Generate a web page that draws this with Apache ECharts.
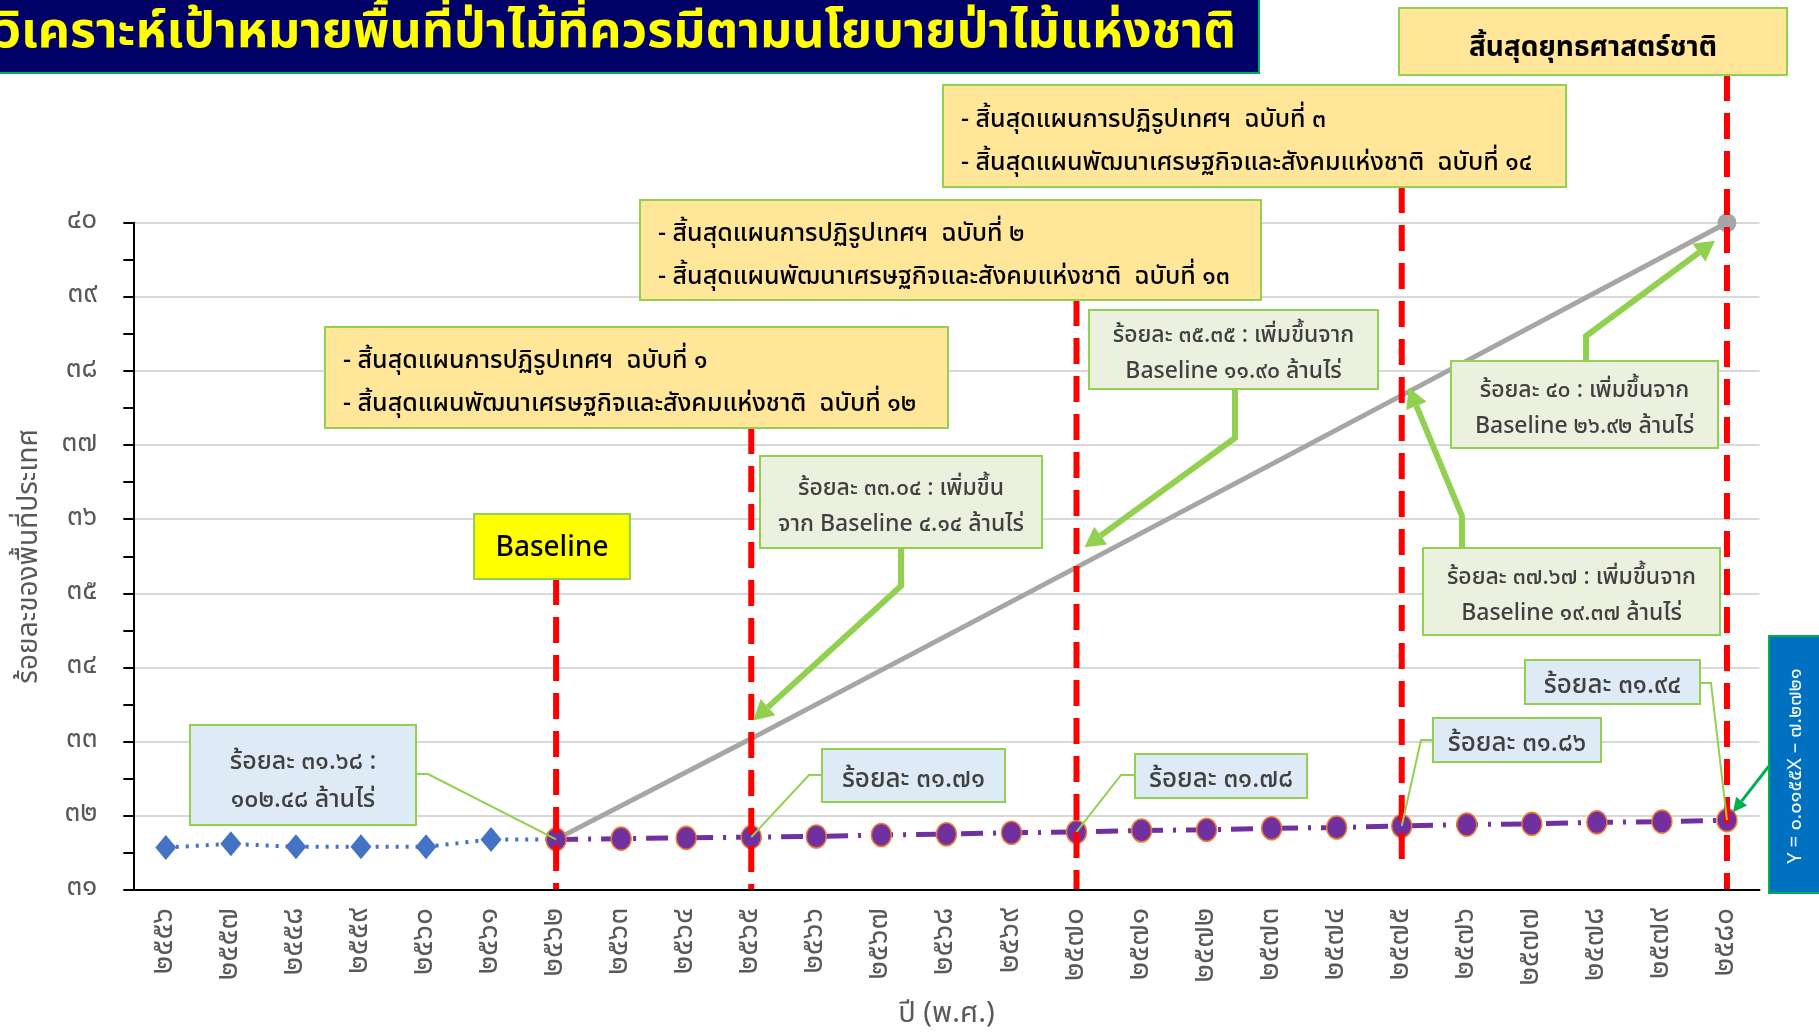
<!DOCTYPE html>
<html><head><meta charset="utf-8">
<script src="https://cdn.jsdelivr.net/npm/echarts@6/dist/echarts.min.js"></script>
<style>html,body{margin:0;padding:0;background:#fff}#c{width:1819px;height:1033px}</style>
</head><body><div id="c"></div>
<script>
// ---------- data ----------
const years = ['๒๕๕๖','๒๕๕๗','๒๕๕๘','๒๕๕๙','๒๕๖๐','๒๕๖๑','๒๕๖๒','๒๕๖๓','๒๕๖๔','๒๕๖๕','๒๕๖๖','๒๕๖๗','๒๕๖๘','๒๕๖๙','๒๕๗๐','๒๕๗๑','๒๕๗๒','๒๕๗๓','๒๕๗๔','๒๕๗๕','๒๕๗๖','๒๕๗๗','๒๕๗๘','๒๕๗๙','๒๕๘๐'];
const yTickLabels = ['๓๑','๓๒','๓๓','๓๔','๓๕','๓๖','๓๗','๓๘','๓๙','๔๐'];
// actual forest cover 2556–2562
const histYears = ['๒๕๕๖','๒๕๕๗','๒๕๕๘','๒๕๕๙','๒๕๖๐','๒๕๖๑','๒๕๖๒'];
const histValues = [31.57, 31.62, 31.58, 31.58, 31.58, 31.68, 31.68];
// trend projection 2562–2580
const projYears = ['๒๕๖๒','๒๕๖๓','๒๕๖๔','๒๕๖๕','๒๕๖๖','๒๕๖๗','๒๕๖๘','๒๕๖๙','๒๕๗๐','๒๕๗๑','๒๕๗๒','๒๕๗๓','๒๕๗๔','๒๕๗๕','๒๕๗๖','๒๕๗๗','๒๕๗๘','๒๕๗๙','๒๕๘๐'];
const projValues = [31.68, 31.69, 31.70, 31.71, 31.72, 31.74, 31.75, 31.77, 31.78, 31.80, 31.81, 31.83, 31.84, 31.86, 31.88, 31.89, 31.91, 31.92, 31.94];
// policy target line
const targetYears = ['๒๕๖๒','๒๕๖๕','๒๕๗๐','๒๕๗๕','๒๕๘๐'];
const targetValues = [31.68, 33.04, 35.35, 37.67, 40];
// milestone years (red dashed lines)
const milestoneYears = ['๒๕๖๒','๒๕๖๕','๒๕๗๐','๒๕๗๕','๒๕๘๐'];

const titleText = 'การวิเคราะห์เป้าหมายพื้นที่ป่าไม้ที่ควรมีตามนโยบายป่าไม้แห่งชาติ';
const FONT = "'Noto Sans Thai','Noto Sans','DejaVu Sans',sans-serif";

const chart = echarts.init(document.getElementById('c'));
const idx = y => years.indexOf(y);

chart.setOption({
  animation: false,
  backgroundColor: '#fff',
  textStyle: { fontFamily: FONT },
  grid: { left: 133.3, right: 59.5, top: 222.7, bottom: 143.2, containLabel: false, outerBoundsMode: 'none' },
  xAxis: {
    type: 'category', data: years, boundaryGap: true,
    name: 'ปี (พ.ศ.)', nameLocation: 'middle', nameGap: 112,
    nameTextStyle: { fontSize: 29, color: '#595959', fontFamily: FONT },
    axisLine: { lineStyle: { color: '#000', width: 2 } },
    axisTick: { alignWithLabel: true, length: 10, lineStyle: { color: '#000', width: 2 } },
    axisLabel: { rotate: 90, fontSize: 30, color: '#595959', margin: 18, interval: 0, fontFamily: FONT }
  },
  yAxis: {
    type: 'value', min: 31, max: 40, interval: 1,
    name: 'ร้อยละของพื้นที่ประเทศ', nameLocation: 'middle', nameGap: 88,
    nameTextStyle: { fontSize: 28, color: '#595959', fontFamily: FONT },
    axisLine: { show: true, lineStyle: { color: '#000', width: 2 } },
    axisTick: { show: true, length: 10, lineStyle: { color: '#000', width: 2 } },
    minorTick: { show: true, splitNumber: 2, length: 10, lineStyle: { color: '#000', width: 2 } },
    splitLine: { lineStyle: { color: '#D9D9D9', width: 2 } },
    axisLabel: { fontSize: 28, color: '#595959', margin: 36, fontFamily: FONT,
      formatter: v => yTickLabels[Math.round(v - 31)] }
  },
  series: [
    { name: 'target', type: 'line', z: 2,
      data: targetYears.map((y, i) => i === targetYears.length - 1
        ? { value: [idx(y), targetValues[i]], symbol: 'circle', symbolSize: 19 }
        : [idx(y), targetValues[i]]),
      symbol: 'none', lineStyle: { color: '#A6A6A6', width: 5 },
      itemStyle: { color: '#A6A6A6' } },
    { name: 'actual', type: 'line', z: 3,
      data: histYears.map((y, i) => [idx(y), histValues[i]]),
      symbol: 'diamond', symbolSize: [21, 25],
      lineStyle: { color: '#4472C4', width: 4, type: [3, 7] },
      itemStyle: { color: '#4472C4' } },
    { name: 'trend', type: 'line', z: 4,
      data: projYears.map((y, i) => [idx(y), projValues[i]]),
      symbol: 'circle', symbolSize: [20, 23],
      lineStyle: { color: '#7030A0', width: 5, type: [22, 10, 3, 10] },
      itemStyle: { color: '#7030A0', borderColor: '#ED7D31', borderWidth: 1.5 } }
  ]
});

// ---------- annotations ----------
const px = (y, v) => chart.convertToPixel({ xAxisIndex: 0, yAxisIndex: 0 }, [idx(y), v]);
const G = [];
const GREEN = '#92D050';
const DY = 6;

function box(x, y, w, h, fill, text, o) {
  o = o || {};
  G.push({ type: 'rect', shape: { x, y, width: w, height: h }, z: 20,
    style: { fill, stroke: o.stroke || GREEN, lineWidth: 2 } });
  G.push({ type: 'text', z: 21,
    x: o.align === 'left' ? x + (o.pad || 18) : x + w / 2, y: y + h / 2 + (o.dy != null ? o.dy : DY),
    style: { text, fill: o.color || '#404040', fontSize: o.size || 21, fontFamily: FONT,
      fontWeight: o.weight || 'normal', align: o.align || 'center', verticalAlign: 'middle',
      lineHeight: o.lh || 36 } });
}
function arrowHead(p, tip, L, W, color) {
  const dx = tip[0] - p[0], dy = tip[1] - p[1], d = Math.hypot(dx, dy);
  const ux = dx / d, uy = dy / d;
  const bx = tip[0] - ux * L, by = tip[1] - uy * L;
  G.push({ type: 'polygon', z: 19, shape: { points: [tip, [bx - uy * W, by + ux * W], [bx + uy * W, by - ux * W]] },
    style: { fill: color } });
  return [bx, by];
}
function thickArrow(start, elbow, tip, color, width) {
  const base = arrowHead(elbow, tip, 20, 11, color);
  G.push({ type: 'polyline', z: 19, shape: { points: [start, elbow, base] },
    style: { stroke: color, lineWidth: width, fill: null } });
}
function callout(start, elbow, end) {
  G.push({ type: 'polyline', z: 19, shape: { points: [start, elbow, end] },
    style: { stroke: GREEN, lineWidth: 2, fill: null } });
}

// red dashed milestone lines
const redTops = [579, 428, 300, 187, 75];
const redBottoms = [889, 889, 889, 866, 889];
milestoneYears.forEach((y, i) => {
  const x = px(y, 31)[0];
  G.push({ type: 'line', z: 10, shape: { x1: x, y1: redTops[i], x2: x, y2: redBottoms[i] },
    style: { stroke: '#FF0000', lineWidth: 6, lineDash: [26, 12] } });
});

// title
G.push({ type: 'rect', z: 20, shape: { x: -4, y: -4, width: 1263, height: 77 },
  style: { fill: '#000066', stroke: '#00B050', lineWidth: 2 } });
G.push({ type: 'text', z: 21, x: 1236, y: 37,
  style: { text: titleText, fill: '#FFFF00', fontSize: 50, fontWeight: 'bold', fontFamily: FONT,
    align: 'right', verticalAlign: 'middle' } });

// plan boxes
const Y1 = '#FFE699';
box(1399, 8, 388, 67, Y1, 'สิ้นสุดยุทธศาสตร์ชาติ', { color: '#000', size: 28, weight: 'bold', dy: 9 });
const planOpt = { align: 'left', color: '#000', size: 25, lh: 43, pad: 18, weight: 500, dy: 7 };
box(943, 85, 623, 102, Y1, '- สิ้นสุดแผนการปฏิรูปเทศฯ  ฉบับที่ ๓\n- สิ้นสุดแผนพัฒนาเศรษฐกิจและสังคมแห่งชาติ  ฉบับที่ ๑๔', planOpt);
box(640, 200, 621, 100, Y1, '- สิ้นสุดแผนการปฏิรูปเทศฯ  ฉบับที่ ๒\n- สิ้นสุดแผนพัฒนาเศรษฐกิจและสังคมแห่งชาติ  ฉบับที่ ๑๓', planOpt);
box(325, 327, 623, 101, Y1, '- สิ้นสุดแผนการปฏิรูปเทศฯ  ฉบับที่ ๑\n- สิ้นสุดแผนพัฒนาเศรษฐกิจและสังคมแห่งชาติ  ฉบับที่ ๑๒', planOpt);
box(474, 514, 156, 65, '#FFFF00', 'Baseline', { color: '#000', size: 28, weight: 500, dy: 4 });

// target boxes
const LG = '#EBF1DE';
const tOpt = { size: 23, lh: 36, weight: 500 };
box(760, 456, 282, 92, LG, 'ร้อยละ ๓๓.๐๔ : เพิ่มขึ้น\nจาก Baseline ๔.๑๔ ล้านไร่', tOpt);
box(1089, 310, 289, 79, LG, 'ร้อยละ ๓๕.๓๕ : เพิ่มขึ้นจาก\nBaseline ๑๑.๙๐ ล้านไร่', tOpt);
box(1451, 361, 267, 87, LG, 'ร้อยละ ๔๐ : เพิ่มขึ้นจาก\nBaseline ๒๖.๙๒ ล้านไร่', tOpt);
box(1423, 548, 297, 87, LG, 'ร้อยละ ๓๗.๖๗ : เพิ่มขึ้นจาก\nBaseline ๑๙.๓๗ ล้านไร่', tOpt);

// trend boxes
const LB = '#DEEBF7';
box(190, 725, 226, 100, LB, 'ร้อยละ ๓๑.๖๘ :\n๑๐๒.๔๘ ล้านไร่', { size: 25, lh: 38, weight: 500, dy: 8 });
const bOpt = { size: 26, weight: 500 };
box(822, 749, 183, 53, LB, 'ร้อยละ ๓๑.๗๑', bOpt);
box(1135, 754, 172, 44, LB, 'ร้อยละ ๓๑.๗๘', bOpt);
box(1433, 718, 168, 44, LB, 'ร้อยละ ๓๑.๘๖', bOpt);
box(1525, 660, 175, 44, LB, 'ร้อยละ ๓๑.๙๔', bOpt);

// equation box
G.push({ type: 'rect', z: 20, shape: { x: 1769, y: 636, width: 60, height: 257 },
  style: { fill: '#0070C0', stroke: '#00B050', lineWidth: 2 } });
G.push({ type: 'text', z: 21, x: 1797, y: 766, rotation: Math.PI / 2,
  style: { text: 'Y = ๐.๐๑๕๕X – ๗.๒๗๒๑', fill: '#fff', fontSize: 20, fontFamily: FONT,
    align: 'center', verticalAlign: 'middle' } });

// thick arrows to target points
let p;
p = px('๒๕๖๕', 33.04); thickArrow([901, 548], [901, 586], [p[0] + 2, p[1] - 18], GREEN, 6);
p = px('๒๕๗๐', 35.35); thickArrow([1235, 389], [1235, 438], [p[0] + 8, p[1] - 20], GREEN, 6);
p = px('๒๕๗๕', 37.67); thickArrow([1462, 548], [1462, 516], [p[0] + 7, p[1] - 8], GREEN, 6);
p = px('๒๕๘๐', 40);    thickArrow([1586, 361], [1586, 336], [p[0] - 12, p[1] + 18], GREEN, 6);

// thin callouts to trend points
p = px('๒๕๖๒', 31.68); callout([416, 774], [428, 774], p);
p = px('๒๕๖๕', 31.71); callout([822, 775], [809, 775], p);
p = px('๒๕๗๐', 31.78); callout([1135, 775], [1121, 775], p);
p = px('๒๕๗๕', 31.86); callout([1433, 740], [1421, 740], p);
p = px('๒๕๘๐', 31.94); callout([1700, 683], [1711, 683], p);
// equation arrow
p = px('๒๕๘๐', 31.94);
(function () {
  const start = [1769, 766], tip = [p[0] + 6, p[1] - 8];
  const base = arrowHead(start, tip, 14, 7, '#00B050');
  G.push({ type: 'line', z: 19, shape: { x1: start[0], y1: start[1], x2: base[0], y2: base[1] },
    style: { stroke: '#00B050', lineWidth: 3 } });
})();

chart.setOption({ graphic: G });
</script>
</body></html>
